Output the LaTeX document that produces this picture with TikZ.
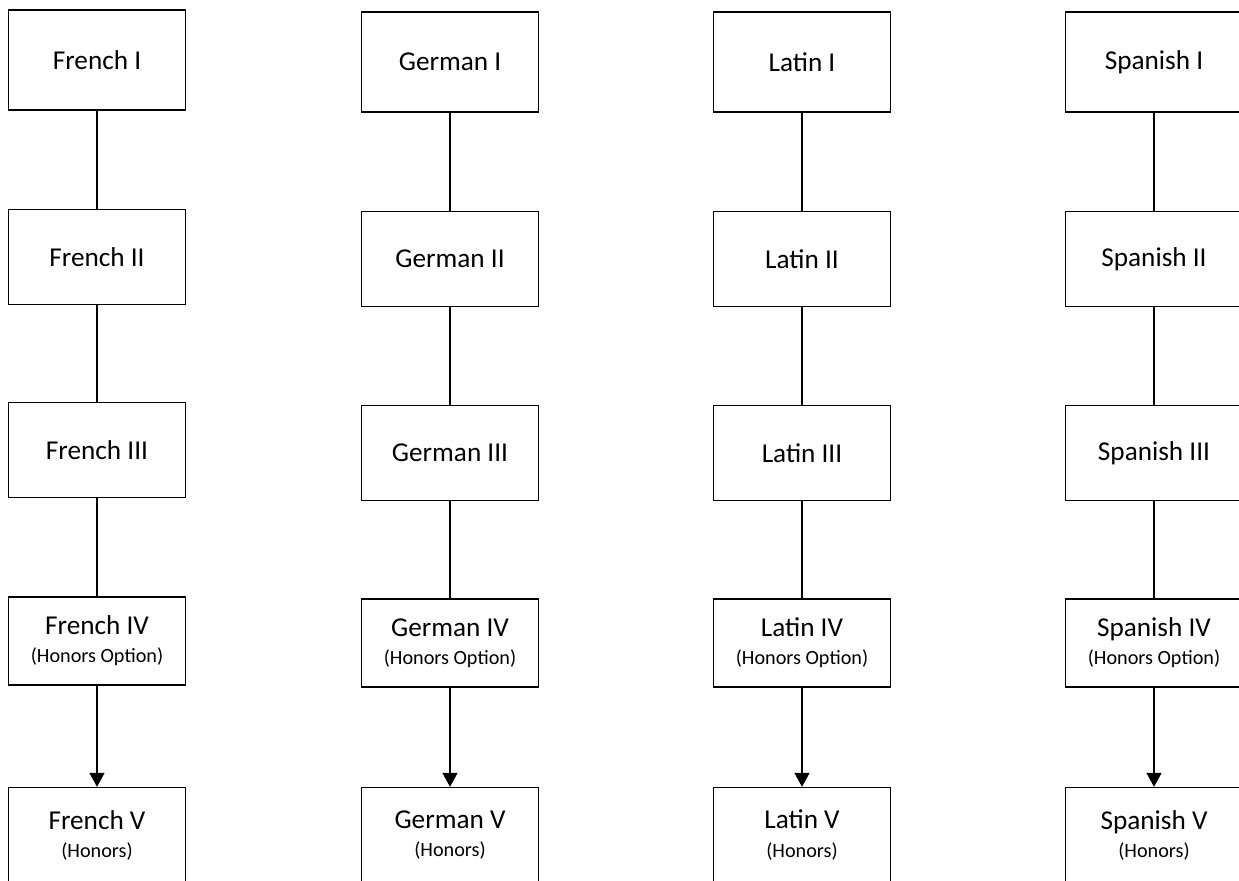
\documentclass[tikz,border=0pt]{standalone}
\usepackage{fontspec}
\setmainfont{Carlito}
\usepackage{tikz}
\usetikzlibrary{arrows.meta}
\tikzset{
coursebox/.style={rectangle, draw=black!100, fill=white, thick, inner sep=0pt, minimum width=3.54cm, minimum height=1.9cm, align=center, font=\fontsize{15.5}{18}\selectfont},
coursebox1/.style={coursebox, minimum height=2cm},
coursebox4/.style={coursebox, minimum height=1.76cm},
}
\newcommand\honors[1]{\\[-2pt]{\fontsize{11.5}{13}\selectfont #1}}

\begin{document}
\begin{tikzpicture}[x=0.02cm,y=-0.02cm]
\useasboundingbox (0,0) rectangle (1239,881);
% French
\node[coursebox1] at (97,60) (fr1) {French I};
\node[coursebox] at (97,257) (fr2) {French II};
\node[coursebox] at (97,450) (fr3) {French III};
\node[coursebox4] at (97,641) (fr4) {French IV\honors{(Honors Option)}};
\node[coursebox] at (97,835) (fr5) {French V\honors{(Honors)}};
\draw[thick,black] (fr1) to (fr2);
\draw[thick,black] (fr2) to (fr3);
\draw[thick,black] (fr3) to (fr4);
\draw[thick,black,-{Triangle[width=0.3cm,length=0.28cm]}] (fr4) to (fr5);

% German
\node[coursebox1] at (450,62) (ge1) {German I};
\node[coursebox] at (450,259) (ge2) {German II};
\node[coursebox] at (450,453) (ge3) {German III};
\node[coursebox4] at (450,643) (ge4) {German IV\honors{(Honors Option)}};
\node[coursebox] at (450,835) (ge5) {German V\honors{(Honors)}};
\draw[thick,black] (ge1) to (ge2);
\draw[thick,black] (ge2) to (ge3);
\draw[thick,black] (ge3) to (ge4);
\draw[thick,black,-{Triangle[width=0.3cm,length=0.28cm]}] (ge4) to (ge5);

% Latin
\node[coursebox1] at (802,62) (la1) {Latin I};
\node[coursebox] at (802,259) (la2) {Latin II};
\node[coursebox] at (802,453) (la3) {Latin III};
\node[coursebox4] at (802,643) (la4) {Latin IV\honors{(Honors Option)}};
\node[coursebox] at (802,835) (la5) {Latin V\honors{(Honors)}};
\draw[thick,black] (la1) to (la2);
\draw[thick,black] (la2) to (la3);
\draw[thick,black] (la3) to (la4);
\draw[thick,black,-{Triangle[width=0.3cm,length=0.28cm]}] (la4) to (la5);

% Spanish
\node[coursebox1] at (1154,62) (sp1) {Spanish I};
\node[coursebox] at (1154,259) (sp2) {Spanish II};
\node[coursebox] at (1154,453) (sp3) {Spanish III};
\node[coursebox4] at (1154,643) (sp4) {Spanish IV\honors{(Honors Option)}};
\node[coursebox] at (1154,835) (sp5) {Spanish V\honors{(Honors)}};
\draw[thick,black] (sp1) to (sp2);
\draw[thick,black] (sp2) to (sp3);
\draw[thick,black] (sp3) to (sp4);
\draw[thick,black,-{Triangle[width=0.3cm,length=0.28cm]}] (sp4) to (sp5);
\end{tikzpicture}
\end{document}
